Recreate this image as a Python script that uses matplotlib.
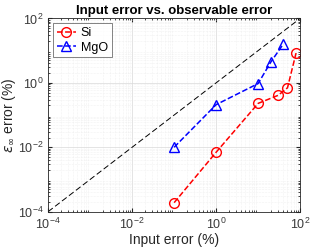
import matplotlib.pyplot as plt
from matplotlib.ticker import LogLocator, NullFormatter

plt.rcParams['font.family'] = ['Liberation Sans', 'DejaVu Sans']

# data
si_input = [0.1, 1, 10, 30, 50, 80]
si_err = [1.9e-4, 0.007, 0.23, 0.41, 0.7, 8.4]
mgo_input = [0.1, 1, 10, 20, 40]
mgo_err = [0.01, 0.21, 0.95, 4.4, 16.2]
ref_line = [1e-4, 1e2]

fig = plt.figure(figsize=(3.32, 2.49), dpi=100)
ax = fig.add_axes([0.145, 0.15, 0.759, 0.776])

ax.plot(ref_line, ref_line, '--', color='black', lw=0.7, dashes=(6, 3))
ax.plot(si_input, si_err, '--o', color='red', mfc='none', ms=7, lw=1.1,
        mew=1.0, label='Si')
ax.plot(mgo_input, mgo_err, '--^', color='blue', mfc='none', ms=7, lw=1.1,
        mew=1.0, label='MgO')

ax.set_xscale('log')
ax.set_yscale('log')
ax.set_xlim(1e-4, 1e2)
ax.set_ylim(1e-4, 1e2)
for axis in (ax.xaxis, ax.yaxis):
    axis.set_minor_locator(LogLocator(base=10, subs=range(2, 10), numticks=20))
    axis.set_minor_formatter(NullFormatter())
# major ticks only every other decade
ax.set_xticks([1e-4, 1e-2, 1e0, 1e2])
ax.set_yticks([1e-4, 1e-2, 1e0, 1e2])

ax.grid(True, which='major', color='#d9d9d9', lw=0.5)
ax.grid(True, which='minor', color='#e6e6e6', lw=0.4, ls=':')
ax.set_axisbelow(True)
ax.tick_params(which='both', direction='in', top=True, right=True,
               labelsize=9, colors='#262626', labelcolor='#3a3a3a', length=3)
ax.tick_params(which='minor', length=1.5)
for s in ax.spines.values():
    s.set_color('#262626')
    s.set_linewidth(0.6)

ax.set_title('Input error vs. observable error', fontsize=9.5, fontweight='bold', pad=3)
ax.set_xlabel('Input error (%)', fontsize=10, labelpad=1, color='#262626')
ax.set_ylabel(r'$\epsilon_\infty$ error (%)', fontsize=10, labelpad=0, color='#262626')

leg = ax.legend(loc='upper left', fontsize=9, frameon=True, fancybox=False,
                edgecolor='#262626', handlelength=1.5, borderaxespad=0.4,
                borderpad=0.3, labelspacing=0.2, handletextpad=0.4)
leg.get_frame().set_linewidth(0.5)

fig.savefig('out.png', dpi=100)
